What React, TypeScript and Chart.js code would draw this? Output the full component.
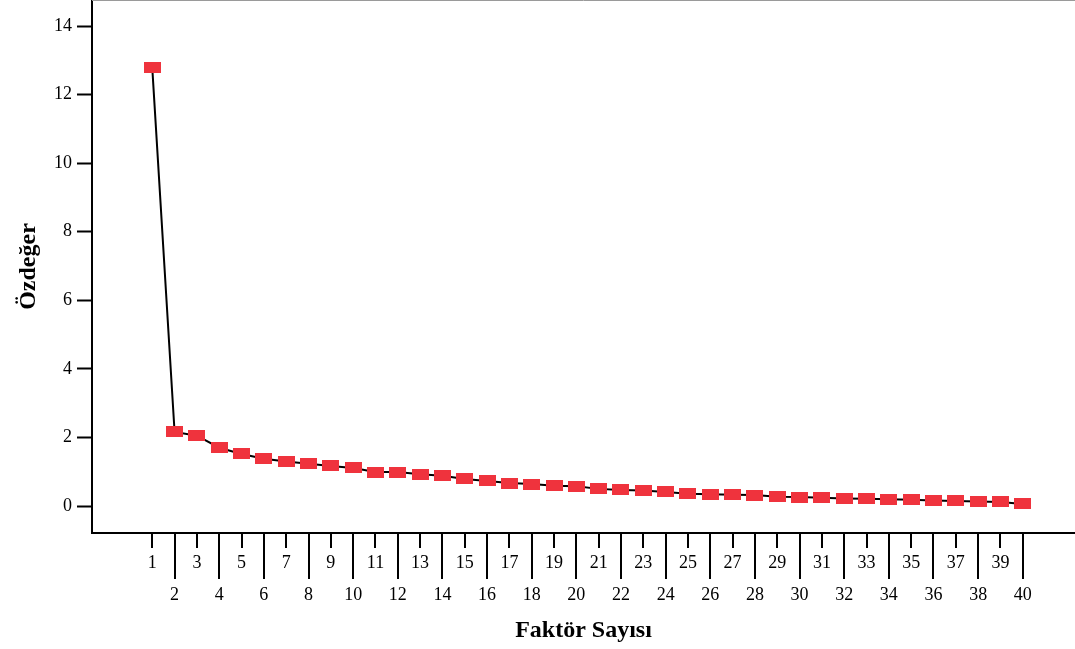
import React, { useEffect, useRef } from "react";
import { Chart, registerables } from "chart.js";

Chart.register(...registerables);

const factors = [
  1, 2, 3, 4, 5, 6, 7, 8, 9, 10, 11, 12, 13, 14, 15, 16, 17, 18, 19, 20,
  21, 22, 23, 24, 25, 26, 27, 28, 29, 30, 31, 32, 33, 34, 35, 36, 37, 38, 39, 40,
];
const eigenvalues = [
  12.78, 2.16, 2.05, 1.7, 1.52, 1.38, 1.3, 1.23, 1.17, 1.11, 0.99, 0.99, 0.93,
  0.88, 0.79, 0.73, 0.67, 0.64, 0.59, 0.58, 0.5, 0.47, 0.45, 0.41, 0.36, 0.34,
  0.33, 0.32, 0.27, 0.26, 0.24, 0.22, 0.21, 0.2, 0.18, 0.16, 0.15, 0.13, 0.12, 0.06,
];
const yTickValues = [0, 2, 4, 6, 8, 10, 12, 14];
const xTitle = "Faktör Sayısı";
const yTitle = "Özdeğer";

const SERIF = "'Liberation Serif', 'Times New Roman', serif";

const xTickPlugin = {
  id: "altXTicks",
  afterDraw(chart: any) {
    const { ctx, chartArea, scales } = chart;
    const xs = scales.x;
    ctx.save();
    ctx.strokeStyle = "#000";
    ctx.lineWidth = 2;
    xs.ticks.forEach((t: any) => {
      const px = Math.round(xs.getPixelForValue(t.value));
      const len = t.value % 2 === 1 ? 15 : 46;
      ctx.beginPath();
      ctx.moveTo(px, chartArea.bottom);
      ctx.lineTo(px, chartArea.bottom + len);
      ctx.stroke();
    });
    ctx.strokeStyle = "#9a9a9a";
    ctx.lineWidth = 1;
    ctx.beginPath();
    ctx.moveTo(chartArea.left, 0.5);
    ctx.lineTo(chartArea.right, 0.5);
    ctx.stroke();
    ctx.restore();
  },
};

const zeroPad = (s: any) => {
  s.paddingTop = 0;
  s.paddingBottom = 0;
  s.paddingLeft = 0;
  s.paddingRight = 0;
};

export default function App() {
  const canvasRef = useRef<HTMLCanvasElement | null>(null);

  useEffect(() => {
    const canvas = canvasRef.current;
    if (!canvas) return;
    const marker = document.createElement("canvas");
    marker.width = 17;
    marker.height = 11;
    const mctx = marker.getContext("2d")!;
    mctx.fillStyle = "#ef333d";
    mctx.fillRect(0, 0, 17, 11);

    const chart = new Chart(canvas, {
      type: "line",
      data: {
        datasets: [
          {
            data: factors.map((f, i) => ({ x: f, y: eigenvalues[i] })),
            borderColor: "#000",
            borderWidth: 2,
            pointStyle: marker as any,
            pointRadius: 8,
            tension: 0,
          },
        ],
      },
      plugins: [xTickPlugin],
      options: {
        animation: false,
        responsive: false,
        layout: { padding: 0, autoPadding: false },
        plugins: { legend: { display: false }, tooltip: { enabled: false } },
        scales: {
          x: {
            type: "linear",
            min: -1.7,
            max: 42.34,
            afterFit: (s: any) => {
              s.height = 116;
              zeroPad(s);
            },
            afterBuildTicks: (s: any) => {
              s.ticks = factors.map((v) => ({ value: v }));
            },
            border: { display: true, color: "#000", width: 2 },
            grid: {
              display: true,
              drawOnChartArea: false,
              drawTicks: true,
              tickLength: 15,
              tickColor: "rgba(0,0,0,0)",
            },
            ticks: {
              autoSkip: false,
              maxRotation: 0,
              minRotation: 0,
              padding: 0,
              color: "#000",
              font: { family: SERIF, size: 18, lineHeight: 1.75 },
              callback: (v: any) =>
                Number(v) % 2 === 1 ? String(v) : ["", String(v)],
            },
            title: {
              display: true,
              text: xTitle,
              color: "#000",
              font: { family: SERIF, size: 24, weight: "bold" },
              padding: { top: 0, bottom: 4 },
            },
          },
          y: {
            type: "linear",
            min: -0.787,
            max: 14.76,
            afterFit: (s: any) => {
              s.width = 92;
              zeroPad(s);
            },
            afterBuildTicks: (s: any) => {
              s.ticks = yTickValues.map((v) => ({ value: v }));
            },
            border: { display: true, color: "#000", width: 2 },
            grid: {
              display: true,
              drawOnChartArea: false,
              tickLength: 15,
              tickColor: "#000",
              tickWidth: 2,
            },
            ticks: {
              padding: 5,
              color: "#000",
              font: { family: SERIF, size: 18 },
            },
            title: {
              display: true,
              text: yTitle,
              color: "#000",
              font: { family: SERIF, size: 24, weight: "bold" },
              padding: { top: 14, bottom: 0 },
            },
          },
        },
      },
    } as any);
    return () => chart.destroy();
  }, []);

  return (
    <div style={{ position: "absolute", left: 0, top: 0, width: 1075, height: 649, background: "#fff" }}>
      <canvas ref={canvasRef} width={1075} height={649} />
    </div>
  );
}
